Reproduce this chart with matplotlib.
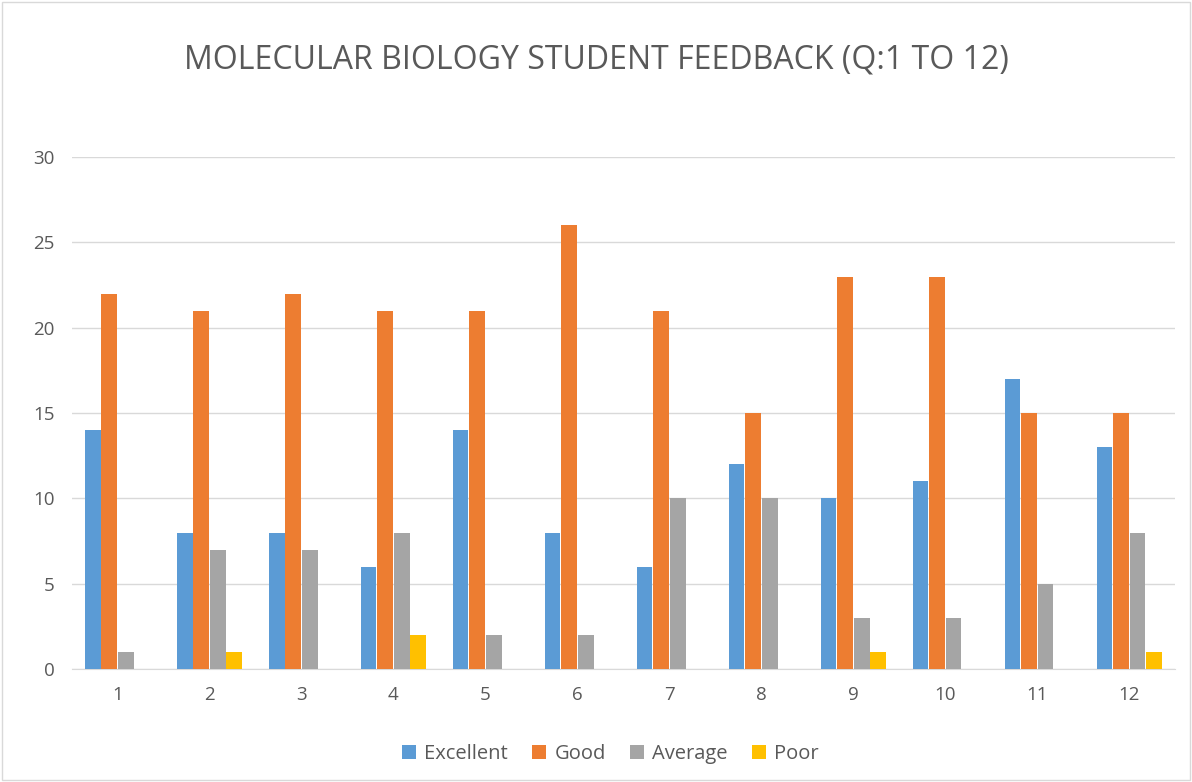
import numpy as np
import matplotlib
matplotlib.use("Agg")
import matplotlib.pyplot as plt
from matplotlib.patches import Rectangle

questions = ["1", "2", "3", "4", "5", "6", "7", "8", "9", "10", "11", "12"]
excellent = [14, 8, 8, 6, 14, 8, 6, 12, 10, 11, 17, 13]
good = [22, 21, 22, 21, 21, 26, 21, 15, 23, 23, 15, 15]
average = [1, 7, 7, 8, 2, 2, 10, 10, 3, 3, 5, 8]
poor = [0, 1, 0, 2, 0, 0, 0, 0, 1, 0, 0, 1]

series = [("Excellent", excellent, "#5B9BD5"),
          ("Good", good, "#ED7D31"),
          ("Average", average, "#A5A5A5"),
          ("Poor", poor, "#FFC000")]

plt.rcParams['font.family'] = ['Open Sans', 'DejaVu Sans']

fig = plt.figure(figsize=(11.92, 7.82), dpi=100)
ax = fig.add_axes([0.060, 0.1445, 0.926, 0.6545])

x = np.arange(len(questions))
w = 0.18
for i, (name, vals, col) in enumerate(series):
    ax.bar(x + (i - 1.5) * w, vals, width=w * 0.95, color=col, label=name, zorder=3)

ax.set_xlim(-0.5, len(questions) - 0.5)
ax.set_ylim(0, 30)
ax.set_yticks(range(0, 31, 5))
ax.set_xticks(x)
ax.set_xticklabels(questions)
ax.grid(axis='y', color='#D9D9D9', linewidth=1, zorder=0)
for s in ['top', 'right', 'left']:
    ax.spines[s].set_visible(False)
ax.spines['bottom'].set_color('#D9D9D9')
ax.tick_params(axis='both', length=0, labelsize=13.5, colors='#595959', pad=12)

fig.suptitle("MOLECULAR BIOLOGY STUDENT FEEDBACK (Q:1 TO 12)", y=0.945,
             fontsize=23, color='#595959')

fig.legend(loc='center', bbox_to_anchor=(0.512, 0.036), ncol=4, frameon=False,
           fontsize=14.5, handlelength=0.7, handleheight=0.7, handletextpad=0.4,
           columnspacing=1.2, labelcolor='#595959')

fig.patches.append(Rectangle((0.002, 0.002), 0.996, 0.996, transform=fig.transFigure,
                             fill=False, edgecolor='#D9D9D9', linewidth=1))

fig.savefig("out.png", dpi=100)
